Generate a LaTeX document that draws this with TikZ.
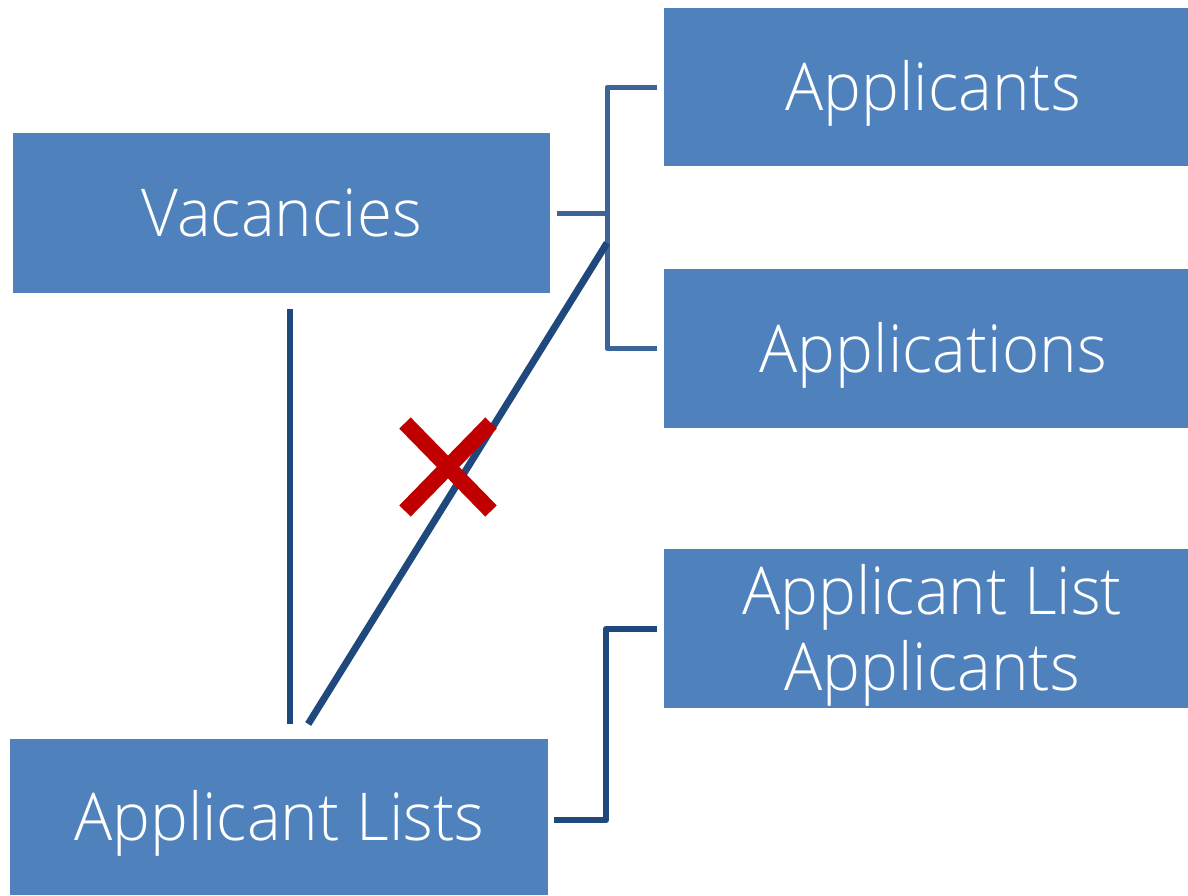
\documentclass[tikz,border=0pt]{standalone}
\usepackage{fontspec}
\setmainfont{Open Sans Light}[FakeStretch=0.965]
\definecolor{boxblue}{HTML}{4F81BD}
\definecolor{navy}{HTML}{1F497D}
\definecolor{midblue}{HTML}{3C6496}
\definecolor{xred}{HTML}{C00000}
\begin{document}
\begin{tikzpicture}[x=1pt,y=-1pt,
  box/.style={rectangle, fill=boxblue, draw=none, inner sep=0pt, anchor=north west,
    text=white, align=center, font=\fontsize{66}{76}\selectfont,
    text height=47pt, text depth=0pt},
  upconn/.style={draw=midblue, line width=5pt, line join=round},
  dkconn/.style={draw=navy, line width=6pt, line join=round},
  crossmark/.style={draw=xred, line width=16pt}]
\useasboundingbox (0,0) rectangle (1188,895);
\fill[white] (0,0) rectangle (1188,895);

\node[box, minimum width=537pt, minimum height=160pt] (vac) at (13,133) {Vacancies};
\node[box, minimum width=524pt, minimum height=158pt] (apps) at (664,8) {\hspace*{14pt}Applicants};
\node[box, minimum width=524pt, minimum height=159pt] (appl) at (664,269) {\hspace*{14pt}Applications};
\node[box, minimum width=524pt, minimum height=159pt, text height=123pt, text depth=0pt] (alap) at (664,549) {\hspace*{12pt}Applicant List\\\hspace*{12pt}Applicants};
\node[box, minimum width=538pt, minimum height=156pt] (al) at (10,739) {Applicant Lists};

% upper bracket
\coordinate (J) at ([xshift=-57pt]apps.west |- vac.east);
\draw[upconn] ([xshift=-7pt]apps.west) -- ([xshift=-57pt]apps.west) |- ([xshift=-7pt]appl.west);
\draw[upconn] ([xshift=7pt]vac.east) -- (J);

% vertical link
\draw[dkconn] ([xshift=8.5pt,yshift=-16pt]vac.south) -- ([xshift=11pt,yshift=15pt]al.north);

% crossed diagonal
\coordinate (dtop) at (607,243);
\draw[dkconn, line width=7pt] ([xshift=29pt,yshift=15pt]al.north) -- (dtop);
\coordinate (xc) at (448,467);
\draw[crossmark] ([shift={(-43,-44)}]xc) -- ([shift={(43,44)}]xc);
\draw[crossmark] ([shift={(43,-44)}]xc) -- ([shift={(-43,44)}]xc);

% lower bracket
\draw[dkconn] ([xshift=6pt,yshift=-3pt]al.east) -| ([xshift=-58pt]alap.west) -- ([xshift=-7pt]alap.west);
\end{tikzpicture}
\end{document}
